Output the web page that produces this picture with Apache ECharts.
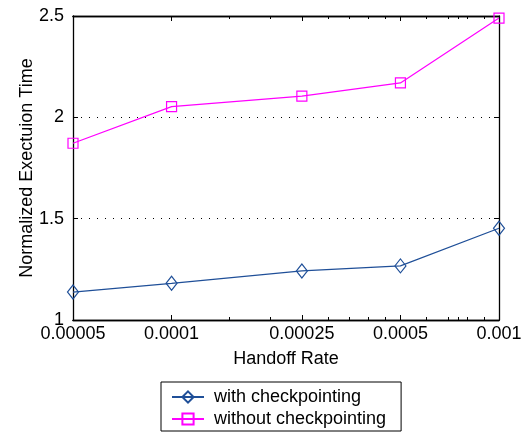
<!DOCTYPE html>
<html>
<head>
<meta charset="utf-8">
<script src="https://cdn.jsdelivr.net/npm/echarts@6/dist/echarts.min.js"></script>
<style>html,body{margin:0;padding:0;background:#fff;}#c{width:526px;height:432px;}</style>
</head>
<body>
<div id="c"></div>
<script>
const handoffRates = [0.00005, 0.0001, 0.00025, 0.0005, 0.001];
const withCheckpointing = [1.138, 1.181, 1.242, 1.267, 1.453];
const withoutCheckpointing = [1.872, 2.053, 2.105, 2.170, 2.490];
const xTickValues = [0.00005, 0.0001, 0.00025, 0.0005, 0.001];
const xTickLabels = ['0.00005', '0.0001', '0.00025', '0.0005', '0.001'];
const xMinorTicks = [0.00015, 0.0002, 0.0003, 0.00035, 0.0004, 0.00045, 0.0006, 0.0007, 0.00075, 0.0008, 0.0009];
const yTicks = [1, 1.5, 2, 2.5];
const seriesNames = ['with checkpointing', 'without checkpointing'];

const FONT = 'Liberation Sans';
const BLUE = '#1f4f98';
const MAG = '#ff00ff';

function fmtX(v) {
  let best = 0, bd = Infinity;
  for (let i = 0; i < xTickValues.length; i++) {
    const d = Math.abs(Math.log(v) - Math.log(xTickValues[i]));
    if (d < bd) { bd = d; best = i; }
  }
  return xTickLabels[best];
}

function xAxisBase(pos, opts) {
  return Object.assign({
    type: 'log',
    logBase: 10,
    min: xTickValues[0],
    max: xTickValues[xTickValues.length - 1],
    position: pos,
    axisLine: { show: true, onZero: false, lineStyle: { color: '#000', width: 1.3 } },
    splitLine: { show: false },
    minorTick: { show: false },
    minorSplitLine: { show: false },
    axisLabel: { show: false },
    axisTick: { show: false }
  }, opts);
}

const chart = echarts.init(document.getElementById('c'), null, { renderer: 'canvas' });
chart.setOption({
  animation: false,
  backgroundColor: '#fff',
  textStyle: { fontFamily: FONT },
  grid: { left: 73, right: 27, top: 16, bottom: 112, containLabel: false },
  xAxis: [
    xAxisBase('bottom', {
      name: 'Handoff Rate',
      nameLocation: 'middle',
      nameGap: 30,
      nameMoveOverlap: false,
      nameTextStyle: { fontFamily: FONT, fontSize: 18, color: '#000' },
      axisLabel: {
        show: true, customValues: xTickValues, formatter: fmtX,
        fontFamily: FONT, fontSize: 18, color: '#000', margin: 5, showMinLabel: true, showMaxLabel: true
      },
      axisTick: { show: true, inside: true, length: 5, customValues: xTickValues, lineStyle: { color: '#000' } }
    }),
    xAxisBase('top', {
      axisTick: { show: true, inside: true, length: 5, customValues: xTickValues, lineStyle: { color: '#000' } }
    }),
    xAxisBase('bottom', {
      axisTick: { show: true, inside: true, length: 3, customValues: xMinorTicks, lineStyle: { color: '#000' } }
    }),
    xAxisBase('top', {
      axisTick: { show: true, inside: true, length: 3, customValues: xMinorTicks, lineStyle: { color: '#000' } }
    })
  ],
  yAxis: [
    {
      type: 'value',
      min: yTicks[0], max: yTicks[yTicks.length - 1], interval: 0.5,
      position: 'left',
      name: 'Normalized Exectuion Time',
      nameLocation: 'middle',
      nameGap: 37,
      nameMoveOverlap: false,
      nameTextStyle: { fontFamily: FONT, fontSize: 18, color: '#000' },
      axisLine: { show: true, lineStyle: { color: '#000', width: 1.3 } },
      axisTick: { show: true, inside: true, length: 5, lineStyle: { color: '#000' } },
      axisLabel: { fontFamily: FONT, fontSize: 18, color: '#000', margin: 9,
        formatter: v => String(v) },
      splitLine: { show: true, lineStyle: { color: '#000', type: [1, 7], width: 1 } }
    },
    {
      type: 'value',
      min: yTicks[0], max: yTicks[yTicks.length - 1], interval: 0.5,
      position: 'right',
      axisLine: { show: true, lineStyle: { color: '#000', width: 1.3 } },
      axisTick: { show: true, inside: true, length: 5, lineStyle: { color: '#000' } },
      axisLabel: { show: false },
      splitLine: { show: false }
    }
  ],
  legend: {
    orient: 'vertical',
    left: 161, top: 382,
    padding: [6, 15, 3, 10],
    itemWidth: 32, itemHeight: 14, itemGap: 4,
    borderColor: '#000', borderWidth: 1,
    textStyle: { fontFamily: FONT, fontSize: 18, color: '#000', padding: [0, 0, 0, 5], lineHeight: 18 },
    data: seriesNames
  },
  series: [
    {
      name: seriesNames[0],
      type: 'line',
      xAxisIndex: 0, yAxisIndex: 0,
      data: handoffRates.map((x, i) => [x, withCheckpointing[i]]),
      symbol: 'diamond',
      symbolSize: [11, 14],
      lineStyle: { color: BLUE, width: 1.2 },
      itemStyle: { color: 'rgba(0,0,0,0)', borderColor: BLUE, borderWidth: 1.2 },
      emphasis: { disabled: true }
    },
    {
      name: seriesNames[1],
      type: 'line',
      xAxisIndex: 0, yAxisIndex: 0,
      data: handoffRates.map((x, i) => [x, withoutCheckpointing[i]]),
      symbol: 'rect',
      symbolSize: 10,
      lineStyle: { color: MAG, width: 1.2 },
      itemStyle: { color: 'rgba(0,0,0,0)', borderColor: MAG, borderWidth: 1.2 },
      emphasis: { disabled: true }
    }
  ]
});
</script>
</body>
</html>
